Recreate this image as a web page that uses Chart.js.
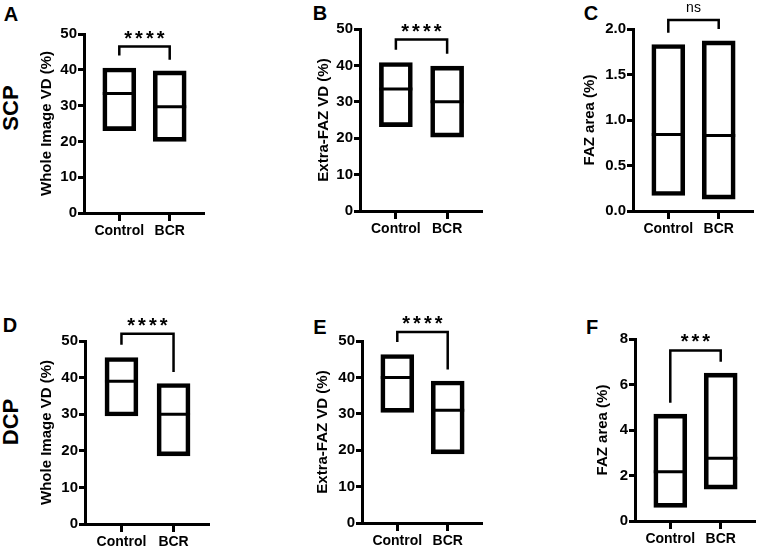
<!DOCTYPE html>
<html>
<head>
<meta charset="utf-8">
<script src="https://cdn.jsdelivr.net/npm/chart.js@4.4.1/dist/chart.umd.min.js"></script>
<style>
  body { margin: 0; background: #fff; }
  #fig { position: relative; width: 758px; height: 548px; overflow: hidden; background: #fff;
         font-family: "Liberation Sans", Arial, sans-serif; color: #000; }
  #fig canvas { position: absolute; }
  .lbl { position: absolute; font-weight: bold; font-size: 20px; line-height: 1;
         transform: translate(-50%, -50%); white-space: nowrap; }
  .row { position: absolute; font-weight: bold; font-size: 22px; line-height: 1;
         transform: translate(-50%, -50%) rotate(-90deg); white-space: nowrap; }
</style>
</head>
<body>
<div id="fig">
  <div class="lbl" style="left:11px;top:14px">A</div>
  <div class="lbl" style="left:320px;top:13px">B</div>
  <div class="lbl" style="left:591px;top:13px">C</div>
  <div class="lbl" style="left:10px;top:325px">D</div>
  <div class="lbl" style="left:320px;top:327px">E</div>
  <div class="lbl" style="left:592px;top:327px">F</div>
  <div class="row" style="left:11px;top:108px">SCP</div>
  <div class="row" style="left:11px;top:422px">DCP</div>
  <canvas id="chartA" width="171" height="243" style="left:34px;top:0px"></canvas>
  <canvas id="chartB" width="172" height="241" style="left:311px;top:0px"></canvas>
  <canvas id="chartC" width="177" height="241" style="left:577px;top:0px"></canvas>
  <canvas id="chartD" width="176" height="264" style="left:34px;top:290px"></canvas>
  <canvas id="chartE" width="173" height="263" style="left:310px;top:290px"></canvas>
  <canvas id="chartF" width="166" height="261" style="left:590px;top:290px"></canvas>
</div>
<script>
const groups = ["Control", "BCR"];

// A - SCP, whole image VD (%)
const scpWholeMin = [23.0, 20.0];
const scpWholeMax = [40.5, 39.7];
const scpWholeMedian = [33.4, 29.7];
const scpWholeBracket = [44.0, 46.5, 42.8];   // left end, top, right end

// B - SCP, extra-FAZ VD (%)
const scpExtraMin = [23.2, 20.3];
const scpExtraMax = [40.8, 39.8];
const scpExtraMedian = [33.5, 30.0];
const scpExtraBracket = [44.3, 47.1, 43.2];

// C - SCP, FAZ area (%)
const scpFazMin = [0.17, 0.13];
const scpFazMax = [1.83, 1.87];
const scpFazMedian = [0.84, 0.83];
const scpFazBracket = [1.96, 2.10, 2.00];

// D - DCP, whole image VD (%)
const dcpWholeMin = [29.5, 18.6];
const dcpWholeMax = [45.5, 38.4];
const dcpWholeMedian = [39.0, 30.0];
const dcpWholeBracket = [49.0, 52.0, 41.5];

// E - DCP, extra-FAZ VD (%)
const dcpExtraMin = [30.4, 19.0];
const dcpExtraMax = [46.3, 39.0];
const dcpExtraMedian = [40.0, 31.0];
const dcpExtraBracket = [49.7, 52.5, 42.2];

// F - DCP, FAZ area (%)
const dcpFazMin = [0.6, 1.4];
const dcpFazMax = [4.7, 6.5];
const dcpFazMedian = [2.17, 2.76];
const dcpFazBracket = [5.2, 7.5, 7.0];

const yTitles = ["Whole Image VD (%)", "Extra-FAZ VD (%)", "FAZ area (%)",
                 "Whole Image VD (%)", "Extra-FAZ VD (%)", "FAZ area (%)"];
const yMaxValues = [50, 50, 2, 50, 50, 8];
const yStepValues = [10, 10, 0.5, 10, 10, 2];
const significance = ["****", "****", "ns", "****", "****", "***"];

const FONT = '"Liberation Sans", Arial, sans-serif';

// bracket + significance label drawn from the chart's own scales
const bracketPlugin = {
  id: 'bracket',
  afterDatasetsDraw(chart, args, opts) {
    const { ctx, scales: { x, y } } = chart;
    const b = opts.values;
    const x0 = x.getPixelForValue(0), x1 = x.getPixelForValue(1);
    const yl = y.getPixelForValue(b[0]), yt = y.getPixelForValue(b[1]), yr = y.getPixelForValue(b[2]);
    ctx.save();
    ctx.strokeStyle = '#000';
    ctx.lineWidth = 2.5;
    ctx.lineJoin = 'miter';
    ctx.lineCap = 'butt';
    ctx.beginPath();
    ctx.moveTo(x0, yl);
    ctx.lineTo(x0, yt);
    ctx.lineTo(x1, yt);
    ctx.lineTo(x1, yr);
    ctx.stroke();
    const ns = opts.label === 'ns';
    ctx.font = ns ? '14px ' + FONT : 'bold 20px ' + FONT;
    ctx.letterSpacing = ns ? '0px' : '3px';
    ctx.fillStyle = '#000';
    ctx.textAlign = 'left';
    ctx.textBaseline = 'alphabetic';
    const m = ctx.measureText(opts.label);
    const xc = (x0 + x1) / 2, yc = yt - 12;
    ctx.fillText(opts.label, xc - (m.actualBoundingBoxRight - m.actualBoundingBoxLeft) / 2,
                 yc + (m.actualBoundingBoxAscent - m.actualBoundingBoxDescent) / 2);
    ctx.restore();
  }
};

function createRangeChart(canvasID, minValues, maxValues, medianValues, bracket, idx, layout) {
  const ctx = document.getElementById(canvasID);
  const step = yStepValues[idx];
  const config = {
    type: 'bar',
    data: {
      datasets: [
        {
          type: 'line',
          data: groups.map((g, i) => ({ x: i, y: medianValues[i] })),
          showLine: false,
          pointStyle: 'line',
          pointRadius: 16.5,
          pointHoverRadius: 16.5,
          pointBorderWidth: 3,
          borderColor: '#000',
          order: 0
        },
        {
          type: 'bar',
          data: groups.map((g, i) => ({ x: i, y: [minValues[i], maxValues[i]] })),
          backgroundColor: 'rgba(0,0,0,0)',
          borderColor: '#000',
          borderWidth: 4,
          borderSkipped: false,
          barThickness: 33,
          order: 1
        }
      ]
    },
    options: {
      responsive: false,
      animation: false,
      events: [],
      layout: { autoPadding: false, padding: { top: layout.top, left: 0, right: 0, bottom: 0 } },
      plugins: {
        legend: { display: false },
        tooltip: { enabled: false },
        bracket: { values: bracket, label: significance[idx] }
      },
      scales: {
        x: {
          type: 'linear',
          offset: false,
          min: -0.7,
          max: 1.7,
          afterBuildTicks: s => { s.ticks = groups.map((g, i) => ({ value: i })); },
          afterFit: s => { s.height = 30; },
          ticks: {
            callback: v => groups[v],
            color: '#000',
            font: { family: FONT, size: 14, weight: 'bold' },
            padding: 2,
            maxRotation: 0,
            autoSkip: false
          },
          grid: { offset: false, drawOnChartArea: false, drawTicks: true, tickLength: 8, tickWidth: 3, tickColor: '#000' },
          border: { display: true, color: '#000', width: 3 }
        },
        y: {
          min: 0,
          max: yMaxValues[idx],
          afterFit: s => { s.width = layout.yWidth; },
          ticks: {
            stepSize: step,
            callback: v => step < 1 ? v.toFixed(1) : v,
            color: '#000',
            font: { family: FONT, size: 15, weight: 'bold' },
            padding: 1
          },
          title: {
            display: true,
            text: yTitles[idx],
            color: '#000',
            font: { family: FONT, size: 15, weight: 'bold' }
          },
          grid: { drawOnChartArea: false, drawTicks: true, tickLength: 6, tickWidth: 3, tickColor: '#000' },
          border: { display: true, color: '#000', width: 3 }
        }
      }
    },
    plugins: [bracketPlugin]
  };
  return new Chart(ctx, config);
}

createRangeChart('chartA', scpWholeMin, scpWholeMax, scpWholeMedian, scpWholeBracket, 0, { top: 34, yWidth: 50 });
createRangeChart('chartB', scpExtraMin, scpExtraMax, scpExtraMedian, scpExtraBracket, 1, { top: 29, yWidth: 49 });
createRangeChart('chartC', scpFazMin, scpFazMax, scpFazMedian, scpFazBracket, 2, { top: 29, yWidth: 56 });
createRangeChart('chartD', dcpWholeMin, dcpWholeMax, dcpWholeMedian, dcpWholeBracket, 3, { top: 51, yWidth: 51 });
createRangeChart('chartE', dcpExtraMin, dcpExtraMax, dcpExtraMedian, dcpExtraBracket, 4, { top: 51, yWidth: 52 });
createRangeChart('chartF', dcpFazMin, dcpFazMax, dcpFazMedian, dcpFazBracket, 5, { top: 49, yWidth: 45 });
</script>
</body>
</html>
